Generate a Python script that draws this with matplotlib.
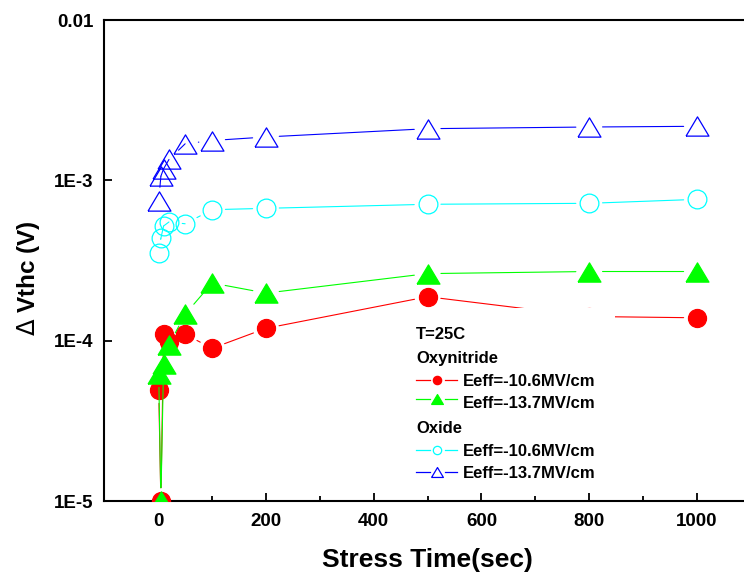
import matplotlib
matplotlib.use("Agg")
import matplotlib.pyplot as plt
from matplotlib.lines import Line2D
from matplotlib.patches import Rectangle
from matplotlib.ticker import MultipleLocator, NullLocator

plt.rcParams['font.family'] = ['Liberation Sans', 'DejaVu Sans']
plt.rcParams['mathtext.fontset'] = 'dejavusans'

# ---- data -----------------------------------------------------------
stress_time = [1, 5, 10, 20, 50, 100, 200, 500, 800, 1000]

oxynitride_106 = [4.92e-5, 1.0e-5, 1.096e-4, 9.85e-5, 1.096e-4, 8.96e-5,
                  1.194e-4, 1.88e-4, 1.415e-4, 1.389e-4]
oxynitride_137 = [6.19e-5, 1.0e-5, 7.15e-5, 9.44e-5, 1.46e-4, 2.29e-4,
                  1.98e-4, 2.62e-4, 2.70e-4, 2.70e-4]
oxide_106 = [3.54e-4, 4.35e-4, 5.19e-4, 5.50e-4, 5.36e-4, 6.56e-4,
             6.69e-4, 7.09e-4, 7.19e-4, 7.61e-4]
oxide_137 = [7.48e-4, 1.061e-3, 1.180e-3, 1.349e-3, 1.690e-3, 1.772e-3,
             1.864e-3, 2.10e-3, 2.151e-3, 2.173e-3]

x_ticks = [0, 200, 400, 600, 800, 1000]
y_ticks = [1e-5, 1e-4, 1e-3, 1e-2]
y_tick_labels = ['1E-5', '1E-4', '1E-3', '0.01']

legend_title = 'T=25C'
group_labels = ['Oxynitride', 'Oxide']
field_labels = ['Eeff=-10.6MV/cm', 'Eeff=-13.7MV/cm']

# ---- styles ---------------------------------------------------------
TRI = [(-1, -0.84), (1, -0.84), (0, 0.84), (-1, -0.84)]
RED, GREEN, CYAN, BLUE = '#ff0000', '#00ff00', '#00ffff', '#0000ff'

series = [
    (oxynitride_106, RED, 'o', 13.0, True),
    (oxynitride_137, GREEN, TRI, 16.5, True),
    (oxide_106, CYAN, 'o', 13.5, False),
    (oxide_137, BLUE, TRI, 16.5, False),
]

fig = plt.figure(figsize=(7.44, 5.8), dpi=100)
ax = fig.add_axes([0.1402, 0.1362, 0.869, 0.8293])
ax.set_yscale('log')
ax.set_xlim(-100, 1100)
ax.set_ylim(1e-5, 1e-2)


def connect(ax, xs, ys, color, z):
    """Join consecutive points with segments that stop short of the markers."""
    for i in range(len(xs) - 1):
        ax.annotate('', xy=(xs[i + 1], ys[i + 1]), xytext=(xs[i], ys[i]),
                    xycoords='data', textcoords='data',
                    arrowprops=dict(arrowstyle='-', color=color, lw=0.8,
                                    shrinkA=9.6, shrinkB=9.6),
                    zorder=z, annotation_clip=False)


for k, (vals, color, marker, ms, filled) in enumerate(series):
    z = 3 + k
    connect(ax, stress_time, vals, color, z)
    ax.plot(stress_time, vals, ls='none', marker=marker, ms=ms,
            mfc=color if filled else 'none', mec=color, mew=0.9,
            zorder=z + 0.5, clip_on=True)

# ---- axes decoration --------------------------------------------------
for side in ['left', 'bottom', 'top', 'right']:
    ax.spines[side].set_linewidth(1.5)

ax.set_xticks(x_ticks)
ax.set_xticklabels([str(v) for v in x_ticks], fontsize=13.5, fontweight='bold')
ax.xaxis.set_minor_locator(MultipleLocator(100))
ax.set_yticks(y_ticks)
ax.set_yticklabels(y_tick_labels, fontsize=13.5, fontweight='bold')
ax.yaxis.set_minor_locator(NullLocator())

ax.tick_params(which='both', direction='in', top=False, right=False)
ax.tick_params(which='major', length=6, width=1.3)
ax.tick_params(which='minor', length=3.5, width=1.3)
ax.tick_params(axis='x', which='major', pad=8.5)
ax.tick_params(axis='y', which='major', pad=8)

ax.set_xlabel('Stress Time(sec)', fontsize=19, fontweight='bold', va='center')
ax.xaxis.set_label_coords(0.5, -0.1227)
ax.set_ylabel(r'$\Delta$ Vthc (V)', fontsize=17.5, fontweight='bold', va='center')
ax.yaxis.set_label_coords(-0.1175, 0.463)

# ---- legend block ---------------------------------------------------
ax.add_patch(Rectangle((0.465, 0.0333), 0.325, 0.368, transform=ax.transAxes,
                       facecolor='white', edgecolor='none', zorder=20))

x_left, x_l1, x_mark, x_r0, x_r1, x_text = 0.4821, 0.5037, 0.5141, 0.5269, 0.5459, 0.5543
fs_leg = 12

ax.text(x_left, 0.3374, legend_title, transform=ax.transAxes, fontsize=fs_leg,
        fontweight='bold', va='baseline', ha='left', zorder=21)
ax.text(x_left, 0.2879, group_labels[0], transform=ax.transAxes, fontsize=fs_leg,
        fontweight='bold', va='baseline', ha='left', zorder=21)
ax.text(x_left, 0.1424, group_labels[1], transform=ax.transAxes, fontsize=fs_leg,
        fontweight='bold', va='baseline', ha='left', zorder=21)

legend_rows = [
    (0.2511, 0.2391, series[0], field_labels[0], 6.0),
    (0.2131, 0.1927, series[1], field_labels[1], 8.5),
    (0.1056, 0.0936, series[2], field_labels[0], 6.0),
    (0.0593, 0.0472, series[3], field_labels[1], 8.5),
]
for yc, yb, (vals, color, marker, ms, filled), label, lms in legend_rows:
    for xa, xb in [(x_left, x_l1), (x_r0, x_r1)]:
        ax.add_line(Line2D([xa, xb], [yc, yc], transform=ax.transAxes,
                           color=color, lw=0.9, zorder=21))
    ax.add_line(Line2D([x_mark], [yc], transform=ax.transAxes, ls='none',
                       marker=marker, ms=lms, mfc=color if filled else 'none',
                       mec=color, mew=0.9, zorder=22))
    ax.text(x_text, yb, label, transform=ax.transAxes, fontsize=fs_leg,
            fontweight='bold', va='baseline', ha='left', zorder=21)

fig.savefig('out.png', dpi=100)
